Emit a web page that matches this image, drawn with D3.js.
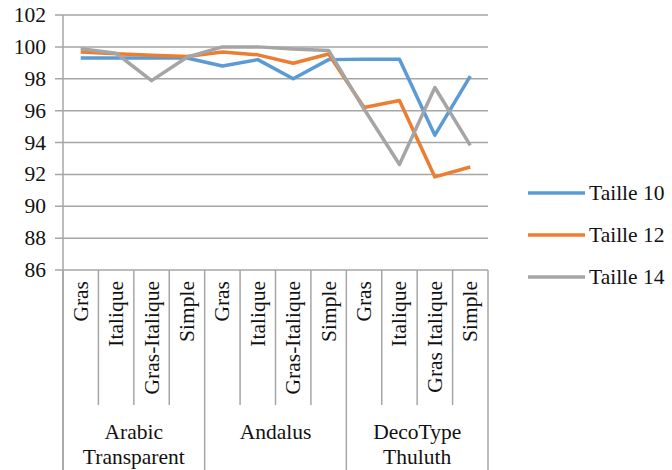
<!DOCTYPE html>
<html>
<head>
<meta charset="utf-8">
<script src="https://cdn.jsdelivr.net/npm/d3@7"></script>
<style>
  body { margin: 0; background: #fff; }
  svg text { font-family: "Liberation Serif", "DejaVu Serif", serif; fill: #111; }
</style>
</head>
<body>
<div id="chart"></div>
<script>
// data
const styles = ['Gras', 'Italique', 'Gras-Italique', 'Simple',
                'Gras', 'Italique', 'Gras-Italique', 'Simple',
                'Gras', 'Italique', 'Gras Italique', 'Simple'];
const groups = [['Arabic', 'Transparent'], ['Andalus'], ['DecoType', 'Thuluth']];
const taille10 = [99.3, 99.3, 99.3, 99.3, 98.8, 99.2, 98.0, 99.2, 99.23, 99.23, 94.46, 98.16];
const taille12 = [99.68, 99.57, 99.47, 99.4, 99.68, 99.5, 98.97, 99.55, 96.2, 96.63, 91.84, 92.46];
const taille14 = [99.88, 99.6, 97.88, 99.35, 100.0, 100.0, 99.86, 99.78, 96.1, 92.62, 97.45, 93.82];
const yTicks = [86, 88, 90, 92, 94, 96, 98, 100, 102];

const series = [
  { name: 'Taille 10', values: taille10, color: '#5b9bd5' },
  { name: 'Taille 12', values: taille12, color: '#ed7d31' },
  { name: 'Taille 14', values: taille14, color: '#a5a5a5' }
];

const width = 672, height = 470;
const plot = { left: 63, right: 488, top: 15, bottom: 270 };
const grid = '#a6a6a6';
const fs = '21.5px';

const svg = d3.select('#chart').append('svg')
  .attr('width', width).attr('height', height)
  .attr('font-family', '"Liberation Serif", serif');

const x = d3.scaleBand().domain(d3.range(styles.length)).range([plot.left, plot.right]);
const y = d3.scaleLinear().domain([86, 102]).range([plot.bottom, plot.top]);

// gridlines + y labels
svg.append('g').selectAll('line').data(yTicks).enter().append('line')
  .attr('x1', plot.left - 8).attr('x2', plot.right)
  .attr('y1', d => y(d)).attr('y2', d => y(d))
  .attr('stroke', grid).attr('stroke-width', 1.5);

svg.append('g').selectAll('text').data(yTicks).enter().append('text')
  .attr('x', plot.left - 17).attr('y', d => y(d))
  .attr('text-anchor', 'end').attr('dominant-baseline', 'central')
  .style('font-size', fs)
  .text(d => d);

// y axis line
svg.append('line').attr('x1', plot.left).attr('x2', plot.left)
  .attr('y1', plot.top).attr('y2', height)
  .attr('stroke', grid).attr('stroke-width', 1.5);

// category separators
const bounds = d3.range(styles.length + 1).map(i => plot.left + i * x.bandwidth());
svg.append('g').selectAll('line').data(bounds).enter().append('line')
  .attr('x1', d => d).attr('x2', d => d)
  .attr('y1', plot.bottom)
  .attr('y2', (d, i) => i % 4 === 0 ? height : 405)
  .attr('stroke', grid).attr('stroke-width', 1.5);

// category labels
svg.append('g').selectAll('text').data(styles).enter().append('text')
  .attr('transform', (d, i) => `translate(${x(i) + x.bandwidth() / 2},281) rotate(-90)`)
  .attr('text-anchor', 'end').attr('dominant-baseline', 'central')
  .style('font-size', fs)
  .text(d => d);

// group labels
groups.forEach((g, gi) => {
  const cx = (bounds[gi * 4] + bounds[gi * 4 + 4]) / 2;
  g.forEach((line, li) => {
    svg.append('text')
      .attr('x', cx).attr('y', 432 + li * 25)
      .attr('text-anchor', 'middle').attr('dominant-baseline', 'central')
      .style('font-size', fs)
      .text(line);
  });
});

// lines
const line = d3.line()
  .x((d, i) => x(i) + x.bandwidth() / 2)
  .y(d => y(d));

series.forEach(s => {
  svg.append('path').datum(s.values)
    .attr('d', line)
    .attr('fill', 'none')
    .attr('stroke', s.color)
    .attr('stroke-width', 3.5)
    .attr('stroke-linejoin', 'round');
});

// legend
const legend = svg.append('g').selectAll('g').data(series).enter().append('g')
  .attr('transform', (d, i) => `translate(528,${193 + i * 42})`);
legend.append('line').attr('x1', 0).attr('x2', 57)
  .attr('stroke', d => d.color).attr('stroke-width', 3.5);
legend.append('text').attr('x', 61).attr('dominant-baseline', 'central')
  .style('font-size', fs)
  .text(d => d.name);
</script>
</body>
</html>
